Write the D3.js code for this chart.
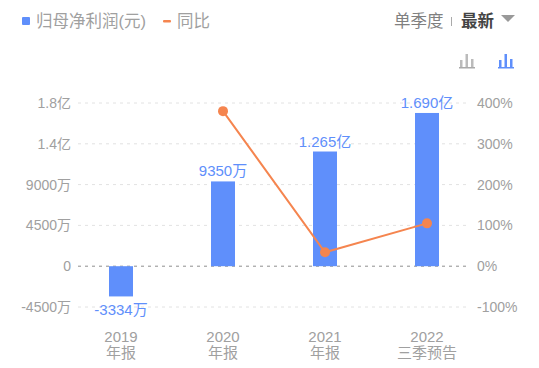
<!DOCTYPE html>
<html lang="zh">
<head>
  <meta charset="utf-8">
  <title>归母净利润</title>
  <script src="https://cdn.jsdelivr.net/npm/d3@7"></script>
  <style>
    html, body { margin: 0; padding: 0; background: #fff; }
    svg { display: block; }
    text { font-family: "Liberation Sans", "Noto Sans CJK SC", sans-serif; }
  </style>
</head>
<body>
  <script>
    const categories = ["2019", "2020", "2021", "2022"];
    const periods = ["年报", "年报", "年报", "三季预告"];
    const profit = [-3334, 9350, 12650, 16900]; // 万元
    const profitLabels = ["-3334万", "9350万", "1.265亿", "1.690亿"];
    const yoyCategories = ["2020", "2021", "2022"];
    const yoy = [380, 34, 105]; // %
    const leftTicks = [-4500, 0, 4500, 9000, 13500, 18000];
    const leftTickLabels = ["-4500万", "0", "4500万", "9000万", "1.4亿", "1.8亿"];
    const rightTicks = [-100, 0, 100, 200, 300, 400];

    const width = 539, height = 368;
    const blue = "#5f8ffb", orange = "#f5854f", grey = "#a0a0a0";

    const svg = d3.select("body").append("svg")
      .attr("width", width)
      .attr("height", height);

    // scales
    const x = d3.scaleBand().domain(categories).range([70, 478]);
    const yLeft = d3.scaleLinear().domain([-4500, 18000]).range([307, 103]);
    const yRight = d3.scaleLinear().domain([-100, 400]).range([307, 103]);
    const cx = d => x(d) + x.bandwidth() / 2;

    // grid lines
    svg.append("g").selectAll("line").data(leftTicks).join("line")
      .attr("x1", 78).attr("x2", 468)
      .attr("y1", d => yLeft(d)).attr("y2", d => yLeft(d))
      .attr("stroke", d => d === 0 ? "#8f8f8f" : "#e2e2e2")
      .attr("stroke-width", 1)
      .attr("stroke-dasharray", "3,4");

    // left axis labels
    svg.append("g").selectAll("text").data(leftTicks).join("text")
      .attr("x", 71)
      .attr("y", d => yLeft(d) + 5)
      .attr("text-anchor", "end")
      .attr("font-size", 14)
      .attr("fill", grey)
      .text((d, i) => leftTickLabels[i]);

    // right axis labels
    svg.append("g").selectAll("text").data(rightTicks).join("text")
      .attr("x", 477)
      .attr("y", d => yRight(d) + 5)
      .attr("font-size", 14)
      .attr("fill", grey)
      .text(d => d + "%");

    // x labels
    const xLabels = svg.append("g").selectAll("text").data(categories).join("text")
      .attr("text-anchor", "middle")
      .attr("font-size", 15)
      .attr("fill", grey);
    xLabels.append("tspan")
      .attr("x", cx).attr("y", 342)
      .text(d => d);
    xLabels.append("tspan")
      .attr("x", cx).attr("y", 358)
      .text((d, i) => periods[i]);

    // bars
    svg.append("g").selectAll("rect").data(categories).join("rect")
      .attr("x", d => cx(d) - 12)
      .attr("width", 24)
      .attr("y", (d, i) => Math.min(yLeft(profit[i]), yLeft(0)))
      .attr("height", (d, i) => Math.abs(yLeft(profit[i]) - yLeft(0)))
      .attr("fill", blue);

    // bar labels, below the bar when the value is negative
    svg.append("g").selectAll("text").data(categories).join("text")
      .attr("x", cx)
      .attr("y", (d, i) => yLeft(profit[i]) + (profit[i] < 0 ? 19 : -5))
      .attr("text-anchor", "middle")
      .attr("font-size", 15)
      .attr("fill", blue)
      .text((d, i) => profitLabels[i]);

    // yoy line
    const line = d3.line()
      .x((d, i) => cx(yoyCategories[i]))
      .y(d => yRight(d));
    svg.append("path")
      .attr("d", line(yoy))
      .attr("fill", "none")
      .attr("stroke", orange)
      .attr("stroke-width", 2);
    svg.append("g").selectAll("circle").data(yoy).join("circle")
      .attr("cx", (d, i) => cx(yoyCategories[i]))
      .attr("cy", d => yRight(d))
      .attr("r", 5)
      .attr("fill", orange);

    // legend
    svg.append("rect").attr("x", 22).attr("y", 17).attr("width", 8).attr("height", 8).attr("rx", 1).attr("fill", blue);
    svg.append("text").attr("x", 36).attr("y", 27).attr("font-size", 16.5).attr("fill", grey).text("归母净利润(元)");
    svg.append("rect").attr("x", 163).attr("y", 20).attr("width", 8).attr("height", 2.5).attr("rx", 1).attr("fill", orange);
    svg.append("text").attr("x", 177).attr("y", 27).attr("font-size", 16.5).attr("fill", grey).text("同比");

    // top right controls
    svg.append("text").attr("x", 394).attr("y", 27).attr("font-size", 16.5).attr("fill", "#808080").text("单季度");
    svg.append("rect").attr("x", 451).attr("y", 17).attr("width", 1).attr("height", 9).attr("fill", "#aaa");
    svg.append("text").attr("x", 461).attr("y", 27).attr("font-size", 16.5).attr("font-weight", "bold").attr("fill", "#444").text("最新");
    svg.append("path").attr("d", "M501,15h14l-7,7z").attr("fill", "#999");

    // chart type icons
    const drawIcon = (left, color, opacity) => {
      const g = svg.append("g").attr("fill", color);
      g.append("rect").attr("x", left).attr("y", 67).attr("width", 16).attr("height", 1.5);
      [[1, 60, 7], [6.5, 54, 13], [12, 59, 8]].forEach(b => {
        g.append("rect").attr("x", left + b[0]).attr("y", b[1]).attr("width", 2.5).attr("height", b[2]).attr("opacity", opacity);
      });
    };
    drawIcon(459, "#aaa", 0.8);
    drawIcon(498, blue, 1);
  </script>
</body>
</html>
